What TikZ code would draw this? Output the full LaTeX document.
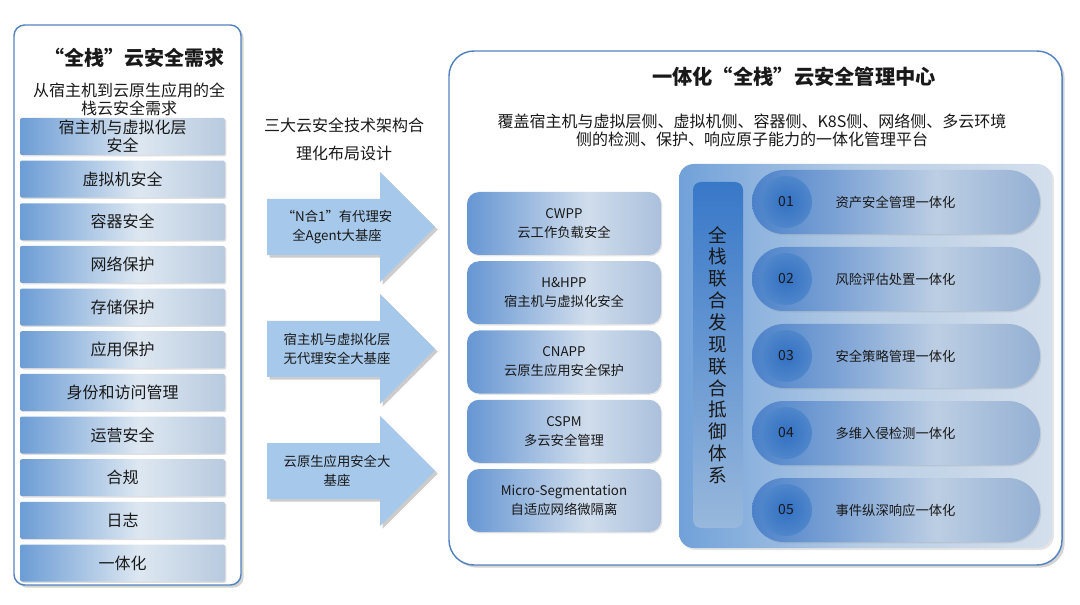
\documentclass[tikz,border=0pt]{standalone}
\usepackage{fontspec}
\setmainfont{Noto Sans CJK SC}
\usetikzlibrary{shadows}
\newcommand\fwq[1]{{\addfontfeature{RawFeature=+fwid}#1}}
\definecolor{edgeblue}{RGB}{84,132,192}
\definecolor{txtc}{RGB}{25,25,25}
\definecolor{arrowc}{RGB}{166,200,234}
\definecolor{barL}{RGB}{108,157,213}
\definecolor{barM}{RGB}{221,231,241}
\definecolor{barR}{RGB}{184,202,223}
\definecolor{boxL}{RGB}{102,150,211}
\definecolor{boxM}{RGB}{208,221,236}
\definecolor{boxR}{RGB}{170,192,220}
\definecolor{panL}{RGB}{112,161,217}
\definecolor{panM}{RGB}{185,206,229}
\definecolor{panR}{RGB}{212,223,236}
\definecolor{pilA}{RGB}{76,130,202}
\definecolor{pilB}{RGB}{125,163,213}
\definecolor{pilC}{RGB}{188,206,227}
\definecolor{pilD}{RGB}{148,176,211}
\definecolor{vbTop}{RGB}{56,120,200}
\definecolor{vbBot}{RGB}{152,184,220}
\definecolor{circIn}{RGB}{50,112,194}
\definecolor{circOut}{RGB}{80,135,203}
\pgfdeclarehorizontalshading{barsh}{100bp}{color(0bp)=(barL); color(25bp)=(barL); color(54bp)=(barM); color(75bp)=(barR); color(100bp)=(barR)}
\pgfdeclarehorizontalshading{boxsh}{100bp}{color(0bp)=(boxL); color(25bp)=(boxL); color(56bp)=(boxM); color(75bp)=(boxR); color(100bp)=(boxR)}
\pgfdeclarehorizontalshading{pansh}{100bp}{color(0bp)=(panL); color(25bp)=(panL); color(50bp)=(panM); color(75bp)=(panR); color(100bp)=(panR)}
\pgfdeclarehorizontalshading{pilsh}{100bp}{color(0bp)=(pilA); color(25bp)=(pilA); color(40bp)=(pilB); color(57bp)=(pilC); color(75bp)=(pilD); color(100bp)=(pilD)}
\tikzset{
  txt/.style={text=txtc, align=center, inner sep=0pt},
  outerbox/.style={draw=edgeblue, line width=1.1pt, fill=white, inner sep=0pt,
    drop shadow={opacity=0.35, shadow xshift=2pt, shadow yshift=-2pt}},
  barbox/.style={shading=barsh, minimum width=153.75pt, minimum height=27.75pt, inner sep=0pt,
    rounded corners=1.5pt, text=txtc, align=center, font=\fontsize{12}{13.5}\selectfont,
    drop shadow={opacity=0.25, shadow xshift=1pt, shadow yshift=-1pt}},
  bigarrow/.style={fill=arrowc, drop shadow={opacity=0.4, shadow xshift=2pt, shadow yshift=-2pt}},
  arrowtxt/.style={txt, font=\fontsize{10}{14.25}\selectfont},
  techbox/.style={shading=boxsh, minimum width=145.5pt, minimum height=47.25pt, inner sep=0pt,
    rounded corners=9pt, text=txtc, align=center, font=\fontsize{10}{14.25}\selectfont,
    drop shadow={opacity=0.2, shadow xshift=1pt, shadow yshift=-1pt}},
  panelbox/.style={shading=pansh, minimum width=279.75pt, minimum height=288pt, inner sep=0pt,
    rounded corners=11pt, drop shadow={opacity=0.2, shadow xshift=1.5pt, shadow yshift=-1.5pt}},
  vbar/.style={top color=vbTop, bottom color=vbBot, minimum width=37.5pt, minimum height=259.5pt,
    inner sep=0pt, rounded corners=6pt},
  pill/.style={shading=pilsh, minimum width=216pt, minimum height=48pt, inner sep=0pt,
    rounded corners=23.9pt, drop shadow={opacity=0.2, shadow xshift=1pt, shadow yshift=-1pt}},
  numcirc/.style={circle, inner color=circIn, outer color=circOut, minimum size=39pt, inner sep=0pt,
    text=txtc, font=\fontsize{10.5}{12}\selectfont},
  pilltxt/.style={txt, font=\fontsize{10}{12}\selectfont},
}
\begin{document}
\begin{tikzpicture}[x=0.75pt,y=-0.75pt]
\useasboundingbox (0,0) rectangle (1080,605);

% ---------- left column ----------
\node[outerbox, rounded corners=8pt, minimum width=170.25pt, minimum height=420pt] (lbox) at (127.5,305) {};
\node[txt, font=\fontsize{15}{17}\selectfont\bfseries] (ltitle) at (134,58) {\fwq{“}全栈\fwq{”}云安全需求};
\node[txt, font=\fontsize{12}{13.5}\selectfont] (lsub) at (129,99) {从宿主机到云原生应用的全\\栈云安全需求};
\foreach \t [count=\i from 0] in {{宿主机与虚拟化层\\安全},虚拟机安全,容器安全,网络保护,存储保护,应用保护,身份和访问管理,运营安全,合规,日志,一体化}{
  \node[barbox] (b\i) at (122.5,{136.5+42.65*\i}) {\t};
}

% ---------- middle ----------
\node[txt, font=\fontsize{12}{21}\selectfont] (mtxt) at (344,139) {三大云安全技术架构合\\理化布局设计};
\foreach \c/\t [count=\i] in {227/{“N合1”有代理安\\全Agent大基座}, 349/{宿主机与虚拟化层\\无代理安全大基座}, 471/{云原生应用安全大\\基座}}{
  \path[bigarrow] (267,\c-28) -- (380,\c-28) -- (380,\c-55) -- (435,\c) -- (380,\c+55) -- (380,\c+28) -- (267,\c+28) -- cycle;
  \node[arrowtxt] (a\i) at (337,\c) {\t};
}

% ---------- right ----------
\node[outerbox, rounded corners=18.75pt, minimum width=459.75pt, minimum height=385.5pt] (rbox) at (755.5,308) {};
\node[txt, font=\fontsize{15.2}{19}\selectfont\bfseries] (rtitle) at (794,77) {一体化\fwq{“}全栈\fwq{”}云安全管理中心};
\node[txt, font=\fontsize{12}{13.5}\selectfont] (rsub) at (752,130) {覆盖宿主机与虚拟层侧、虚拟机侧、容器侧、K8S侧、网络侧、多云环境\\侧的检测、保护、响应原子能力的一体化管理平台};

\foreach \t [count=\i from 0] in {{CWPP\\云工作负载安全},{H\&HPP\\宿主机与虚拟化安全},{CNAPP\\云原生应用安全保护},{CSPM\\多云安全管理},{Micro-Segmentation\\自适应网络微隔离}}{
  \node[techbox] (t\i) at (564,{223.5+69.25*\i}) {\t};
}

\node[panelbox] (panel) at (865.5,356) {};
\node[vbar] (vb) at (718,355) {};
\node[txt, font=\fontsize{14}{16.4}\selectfont] (vtxt) at (718,355) {全\\栈\\联\\合\\发\\现\\联\\合\\抵\\御\\体\\系};

\foreach \n/\t [count=\i from 0] in {01/资产安全管理一体化,02/风险评估处置一体化,03/安全策略管理一体化,04/多维入侵检测一体化,05/事件纵深响应一体化}{
  \node[pill] (p\i) at (896,{202+77*\i}) {};
  \node[numcirc] (c\i) at (786,{202+77*\i}) {\n};
  \node[pilltxt] (l\i) at (895.5,{202+77*\i}) {\t};
}
\end{tikzpicture}
\end{document}
